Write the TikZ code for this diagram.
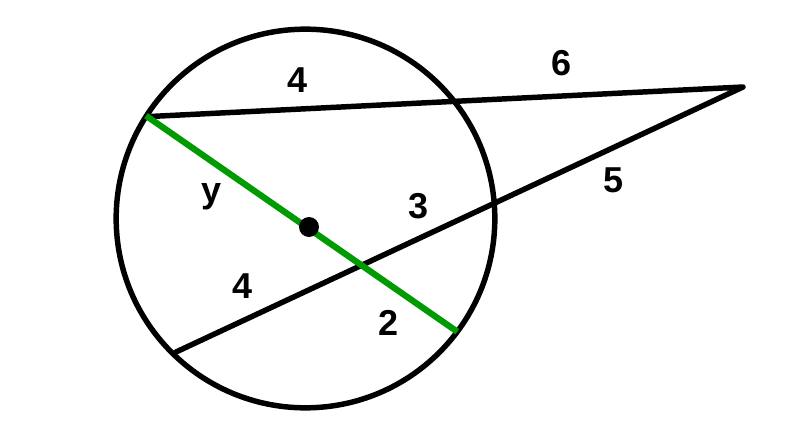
\documentclass[tikz,border=0pt]{standalone}
\usepackage{fontspec}
\setmainfont{Liberation Sans}
\definecolor{chordgreen}{RGB}{0,155,0}
\begin{document}
\begin{tikzpicture}[
                x=0.75pt, y=-0.75pt,
                every node/.style={font=\bfseries\fontsize{27}{30}\selectfont},
                seg/.style={line width=4.1pt, draw=black, line cap=round, line join=round},
                diam/.style={line width=4.7pt, draw=chordgreen},
                centerdot/.style={circle, fill=black, inner sep=0pt, minimum size=15pt}
            ]
                \useasboundingbox (0,0) rectangle (794,436);
                
                % Circle and points on it
                \coordinate (O) at (305.5,218.5);
                \draw[seg] (O) circle[radius=142pt];
                \coordinate (apex) at (743,87);
                \coordinate (topL) at (150,116.5);
                \coordinate (lowL) at (176,352);
                \coordinate (dA) at (146,115.7);
                \coordinate (dB) at (457.3,331.7);
                
                % Secants from the outside point
                \draw[seg] (topL) -- (apex) -- (lowL);
                
                % Green diameter and centre
                \draw[diam] (dA) -- (dB);
                \node[centerdot] (ctr) at (309,227) {};
                
                % Lengths
                \node (l4top) at (297.5,80) {4};
                \node (l6) at (561.7,63.5) {6};
                \node (ly) at (211.5,196.5) {y};
                \node (l3) at (419,206.5) {3};
                \node (l5) at (613.3,180) {5};
                \node (l4low) at (242.5,286.5) {4};
                \node (l2) at (388.7,323) {2};
            \end{tikzpicture}
\end{document}
